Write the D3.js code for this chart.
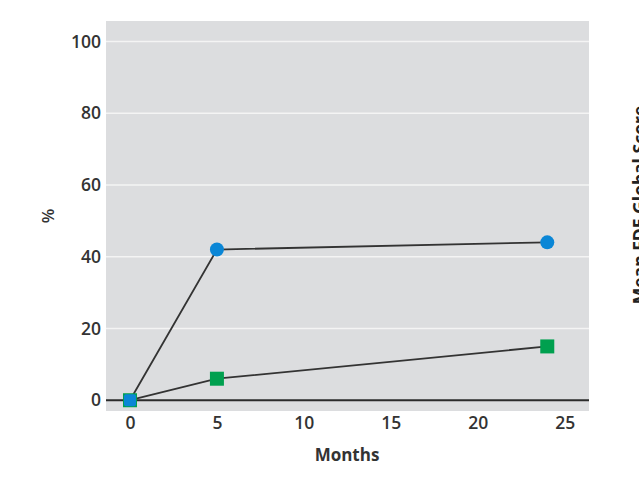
<!DOCTYPE html>
<html>
<head>
<meta charset="utf-8">
<script src="https://cdn.jsdelivr.net/npm/d3@7"></script>
<style>
  body { margin: 0; background: #fff; }
  text { font-family: "Open Sans", sans-serif; }
</style>
</head>
<body>
<script>
var months   = [0, 5, 24];
var circles  = [0, 42, 44];
var squares  = [0, 6, 15];
var xTicks   = [0, 5, 10, 15, 20, 25];
var yTicks   = [0, 20, 40, 60, 80, 100];

var width  = 639;
var height = 478;

var svg = d3.select("body")
            .append("svg")
            .attr("width", width)
            .attr("height", height);

var plot = {left: 106, top: 21, right: 589, bottom: 411};

var x = d3.scaleLinear().domain([-1.38, 26.4]).range([plot.left, plot.right]);
var y = d3.scaleLinear().domain([-3, 105.7]).range([plot.bottom, plot.top]);

svg.append("rect")
   .attr("x", plot.left)
   .attr("y", plot.top)
   .attr("width", plot.right - plot.left)
   .attr("height", plot.bottom - plot.top)
   .attr("fill", "#dcdddf");

// grid
svg.selectAll(".grid")
   .data(yTicks.filter(function(d) { return d > 0; }))
   .enter().append("line")
   .attr("x1", plot.left)
   .attr("x2", plot.right)
   .attr("y1", function(d) { return y(d); })
   .attr("y2", function(d) { return y(d); })
   .attr("stroke", "#f4f4f4")
   .attr("stroke-width", 1.5);

// zero line
svg.append("line")
   .attr("x1", plot.left)
   .attr("x2", plot.right)
   .attr("y1", y(0))
   .attr("y2", y(0))
   .attr("stroke", "#2b2b2b")
   .attr("stroke-width", 2.2);

// axes (labels only)
var yAxis = svg.append("g")
   .attr("transform", "translate(" + plot.left + ",0)")
   .call(d3.axisLeft(y).tickValues(yTicks).tickSize(0).tickPadding(5));
yAxis.select(".domain").remove();
yAxis.selectAll("text")
     .style("font-size", "17.5px")
     .style("font-weight", "600")
     .attr("fill", "#333");

var xAxis = svg.append("g")
   .attr("transform", "translate(0," + plot.bottom + ")")
   .call(d3.axisBottom(x).tickValues(xTicks).tickSize(0).tickPadding(6));
xAxis.select(".domain").remove();
xAxis.selectAll("text")
     .style("font-size", "17.5px")
     .style("font-weight", "600")
     .attr("fill", "#333");

svg.append("text")
   .attr("x", 347)
   .attr("y", 461)
   .style("text-anchor", "middle")
   .style("font-size", "17px")
   .style("font-weight", "700")
   .attr("fill", "#333")
   .text("Months");

svg.append("text")
   .attr("transform", "translate(54,216) rotate(-90)")
   .style("text-anchor", "middle")
   .style("font-size", "17px")
   .style("font-weight", "600")
   .attr("fill", "#333")
   .text("%");

// cut off right-hand title
svg.append("text")
   .attr("transform", "translate(646,205) rotate(-90)")
   .style("text-anchor", "middle")
   .style("font-size", "17.5px")
   .style("font-weight", "700")
   .attr("fill", "#222")
   .text("Mean FDE Global Score");

var line = d3.line()
   .x(function(d, i) { return x(months[i]); })
   .y(function(d) { return y(d); });

svg.append("path")
   .datum(squares)
   .attr("d", line)
   .attr("fill", "none")
   .attr("stroke", "#333")
   .attr("stroke-width", 1.8);

svg.append("path")
   .datum(circles)
   .attr("d", line)
   .attr("fill", "none")
   .attr("stroke", "#333")
   .attr("stroke-width", 1.8);

svg.selectAll(".sq")
   .data(squares)
   .enter().append("rect")
   .attr("x", function(d, i) { return x(months[i]) - 7; })
   .attr("y", function(d) { return y(d) - 7; })
   .attr("width", 14)
   .attr("height", 14)
   .attr("fill", "#00a04f");

svg.selectAll(".ci")
   .data(circles)
   .enter().append(function(d, i) {
     return document.createElementNS("http://www.w3.org/2000/svg", i === 0 ? "rect" : "circle");
   })
   .each(function(d, i) {
     var el = d3.select(this);
     if (i === 0) {
       el.attr("x", x(months[i]) - 6)
         .attr("y", y(d) - 6)
         .attr("width", 12)
         .attr("height", 12)
         .attr("rx", 2);
     } else {
       el.attr("cx", x(months[i]))
         .attr("cy", y(d))
         .attr("r", 7);
     }
   })
   .attr("fill", "#0a86d6");
</script>
</body>
</html>
